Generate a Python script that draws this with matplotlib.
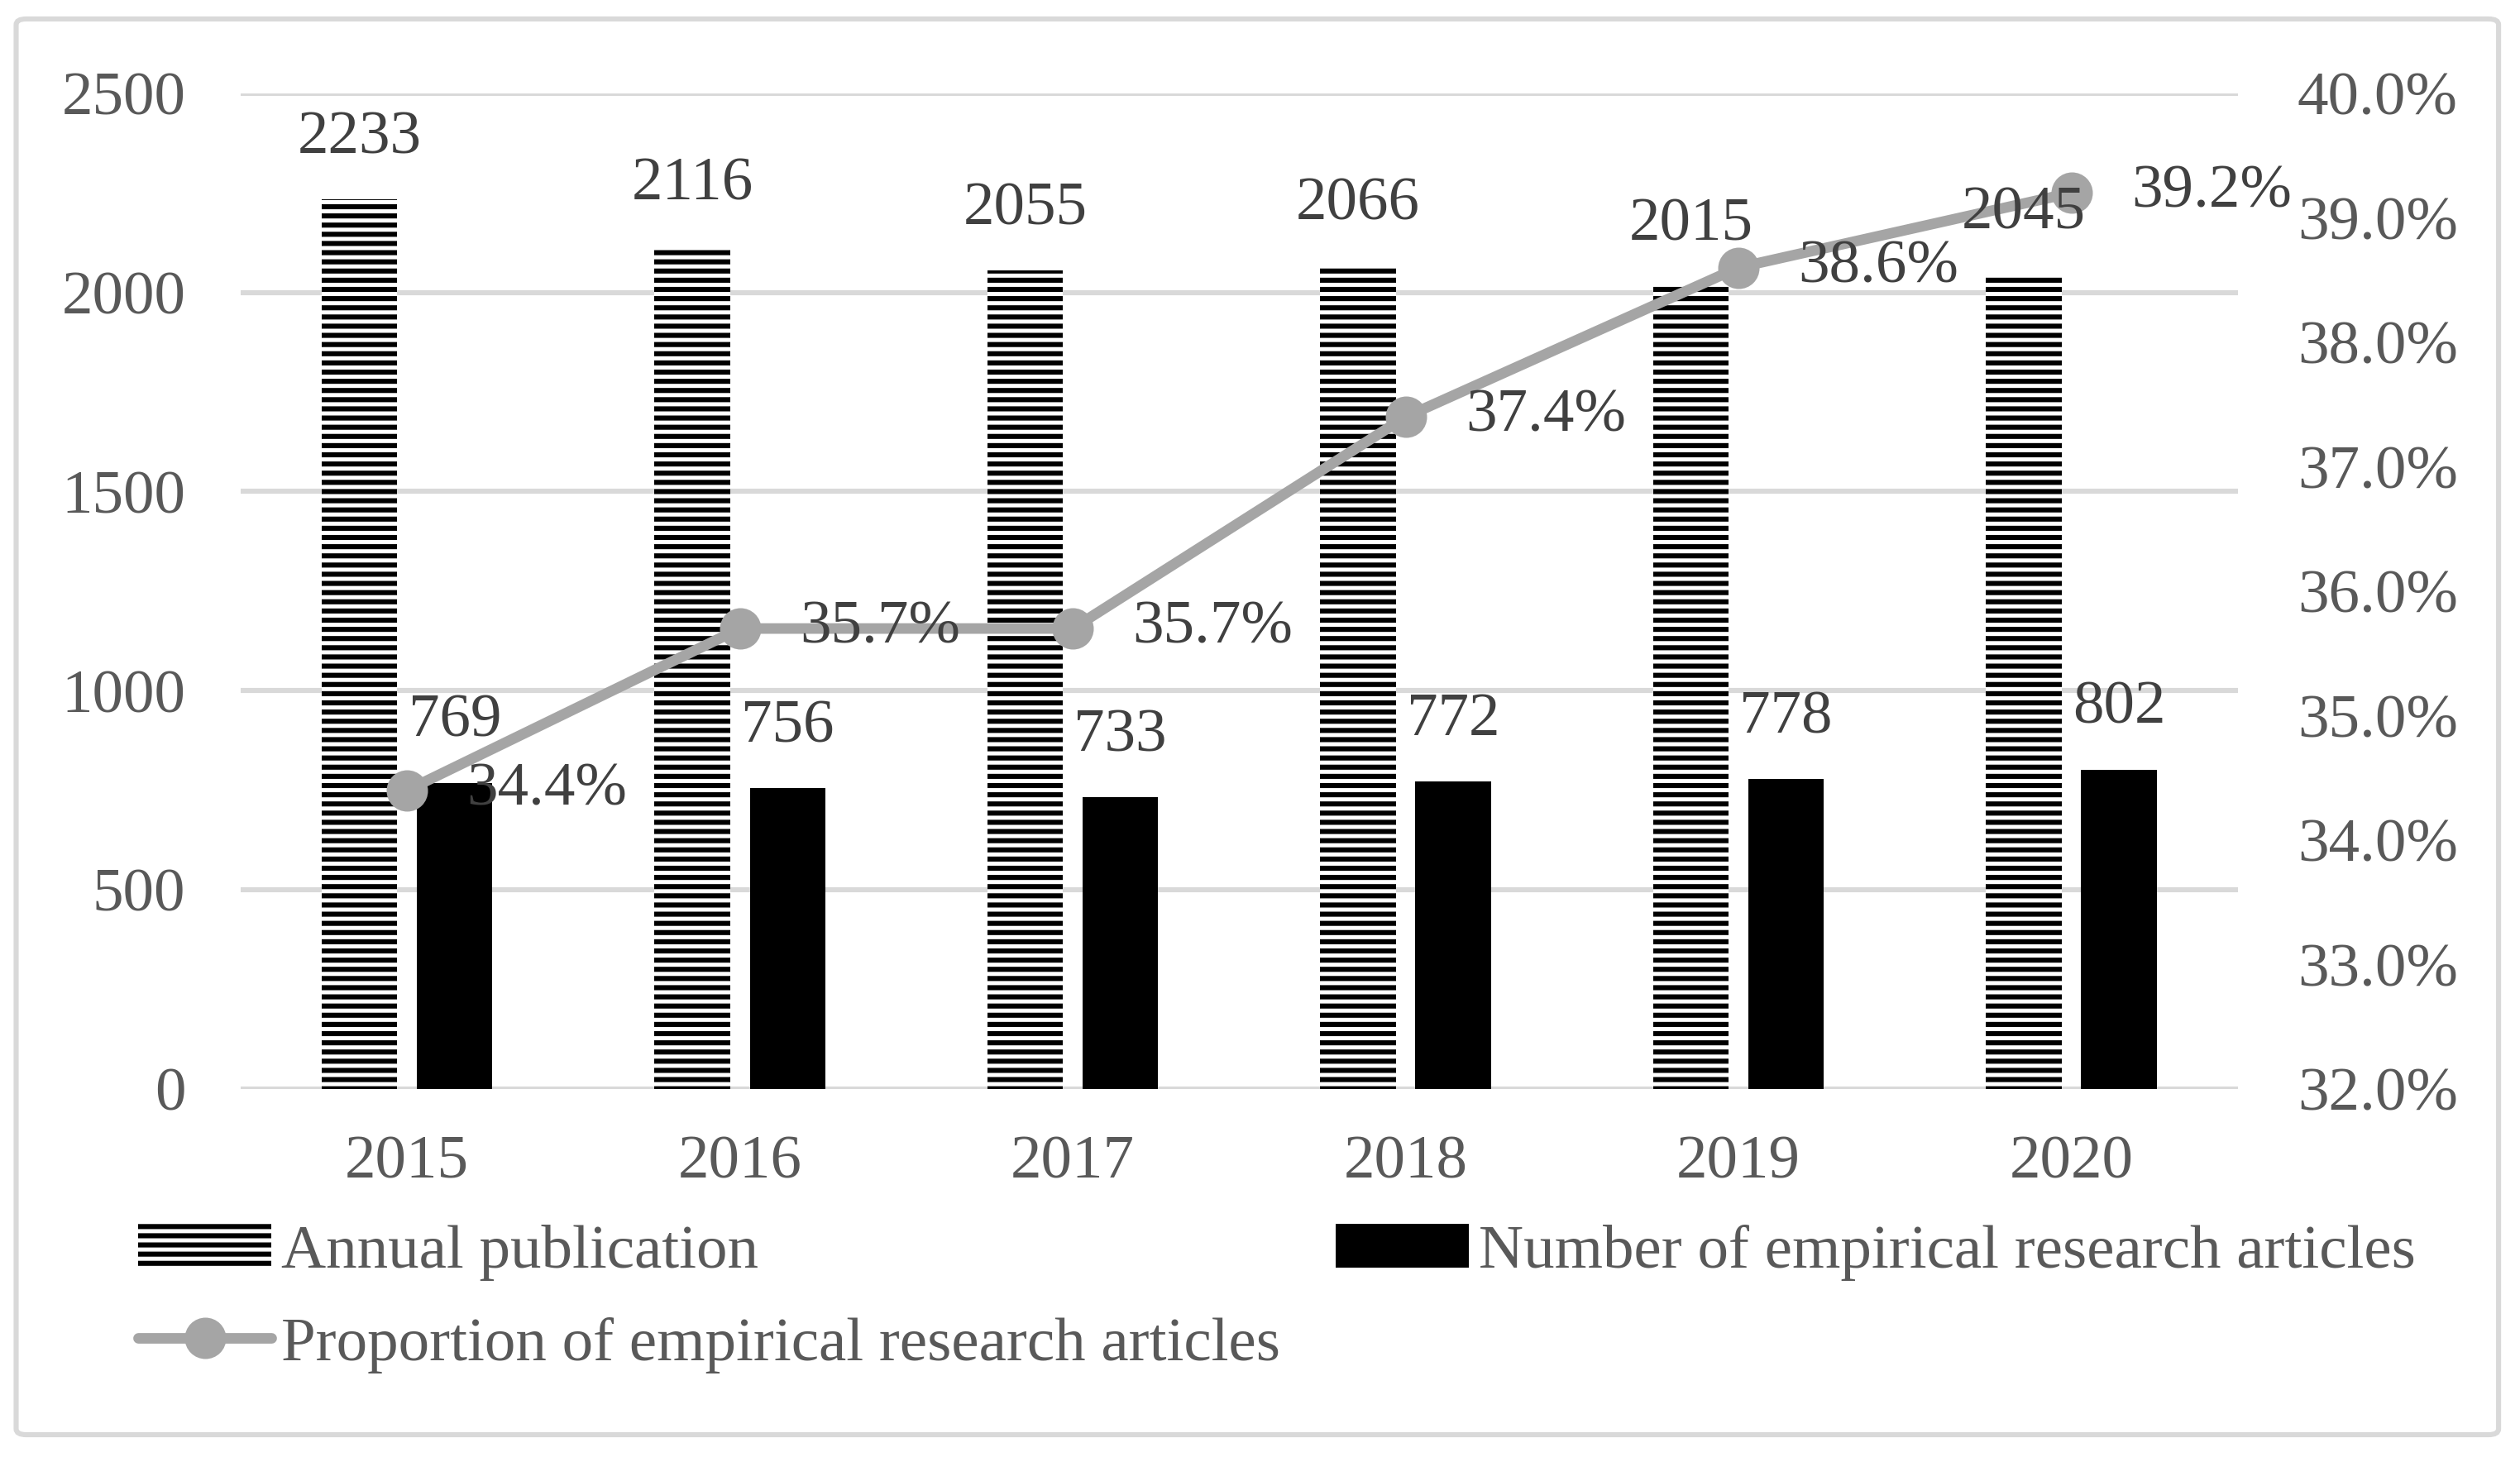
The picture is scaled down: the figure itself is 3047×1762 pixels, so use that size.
import matplotlib

matplotlib.use("Agg")

import matplotlib.pyplot as plt
import numpy as np
from matplotlib.patches import FancyBboxPatch
from matplotlib.ticker import FuncFormatter, MultipleLocator

years = ["2015", "2016", "2017", "2018", "2019", "2020"]
annual_publication = [2233, 2116, 2055, 2066, 2015, 2045]
empirical_articles = [769, 756, 733, 772, 778, 802]
empirical_share = [34.4, 35.7, 35.7, 37.4, 38.6, 39.2]

plt.rcParams["font.family"] = ["Liberation Serif", "DejaVu Serif"]
plt.rcParams["hatch.linewidth"] = 2.2

TICK_GRAY = "#595959"
LABEL_GRAY = "#404040"
LINE_GRAY = "#A5A5A5"
GRID_GRAY = "#D9D9D9"
FS = 27

fig = plt.figure(figsize=(15.235, 8.81), dpi=200)
ax = fig.add_axes([0.0955, 0.2525, 0.7925, 0.6835])
ax2 = ax.twinx()

x = np.arange(len(years))
width = 0.227
offset = 0.143

ax.bar(x - offset, annual_publication, width, facecolor="white", edgecolor="black",
       hatch="---", linewidth=0, label="Annual publication", zorder=2)
ax.bar(x + offset, empirical_articles, width, color="black", linewidth=0,
       label="Number of empirical research articles", zorder=2)

ax2.plot(x, empirical_share, color=LINE_GRAY, linewidth=4.6, marker="o", markersize=17,
         solid_capstyle="round", label="Proportion of empirical research articles", zorder=3)

ax.set_xlim(-0.5, len(years) - 0.5)
ax.set_ylim(0, 2500)
ax.yaxis.set_major_locator(MultipleLocator(500))
ax2.set_ylim(32, 40)
ax2.yaxis.set_major_locator(MultipleLocator(1))
ax2.yaxis.set_major_formatter(FuncFormatter(lambda v, _: f"{v:.1f}%"))

ax.set_xticks(x)
ax.set_xticklabels(years)
ax.grid(axis="y", color=GRID_GRAY, linewidth=2.2, zorder=0)
ax.set_axisbelow(True)
for a in (ax, ax2):
    for side in ("top", "right", "left", "bottom"):
        a.spines[side].set_visible(False)
ax.tick_params(axis="y", length=0, pad=24, labelsize=FS, labelcolor=TICK_GRAY)
ax.tick_params(axis="x", length=0, pad=20, labelsize=FS, labelcolor=TICK_GRAY)
ax2.tick_params(axis="y", length=0, pad=26, labelsize=FS, labelcolor=TICK_GRAY)

# data labels sit on ax2 so they draw over the line
for i, v in enumerate(annual_publication):
    ax2.annotate(str(v), xy=(x[i] - offset, v), xycoords=ax.transData, xytext=(0, 26.5),
                 textcoords="offset points", ha="center", va="center", fontsize=FS,
                 color=LABEL_GRAY, zorder=5)
for i, v in enumerate(empirical_articles):
    ax2.annotate(str(v), xy=(x[i] + offset, v), xycoords=ax.transData, xytext=(0, 26.5),
                 textcoords="offset points", ha="center", va="center", fontsize=FS,
                 color=LABEL_GRAY, zorder=5)
for i, v in enumerate(empirical_share):
    ax2.annotate(f"{v:.1f}%", xy=(x[i], v), xytext=(26, 0), textcoords="offset points",
                 ha="left", va="center", fontsize=FS, color=LABEL_GRAY, zorder=5)

h1, l1 = ax.get_legend_handles_labels()
h2, l2 = ax2.get_legend_handles_labels()
handles = [h1[0], h2[0], h1[1]]
labels = [l1[0], l2[0], l1[1]]
fig.legend(handles, labels, ncols=2, loc="upper left", bbox_to_anchor=(0.045, 0.177),
           frameon=False, fontsize=FS, labelcolor=TICK_GRAY, handlelength=2.15,
           handletextpad=0.15, columnspacing=0.9, labelspacing=0.58, borderaxespad=0)

border = FancyBboxPatch((0.0064, 0.0153), 0.9851, 0.9717, boxstyle="round,pad=0,rounding_size=0.004",
                        transform=fig.transFigure, facecolor="none", edgecolor=GRID_GRAY,
                        linewidth=2.2)
fig.patches.append(border)

fig.savefig("out.png", dpi=200)
